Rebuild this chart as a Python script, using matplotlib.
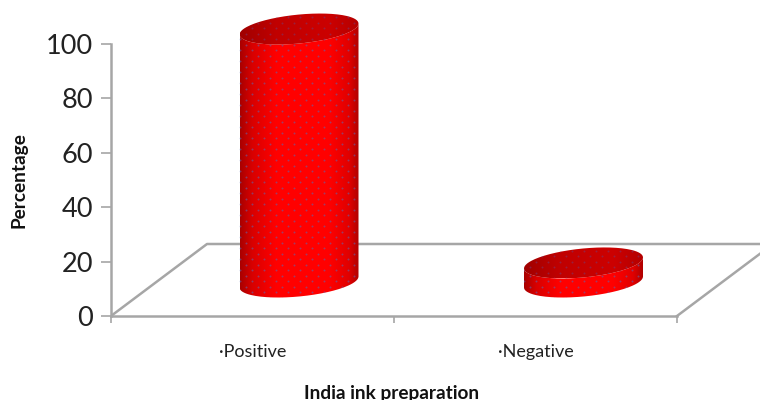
import numpy as np
import matplotlib
matplotlib.use("Agg")
import matplotlib.pyplot as plt
from matplotlib.colors import LinearSegmentedColormap
from matplotlib.path import Path
from matplotlib.patches import PathPatch

categories = ["·Positive", "·Negative"]
percentages = [93, 7]
y_ticks = [0, 20, 40, 60, 80, 100]

W, H = 760, 400
LEFT, BOTTOM = 111, 316      # pixel position of the axes origin
PX_X = 283.0                 # pixels per category
PX_Y = 2.72                  # pixels per percent
GREY = "#a6a6a6"

plt.rcParams["font.family"] = ["Lato", "DejaVu Sans"]

side_cmap = LinearSegmentedColormap.from_list(
    "side", [(0, "#a80000"), (0.1, "#d80000"), (0.3, "#ff0000"), (0.75, "#ff0000"), (0.92, "#e00000"), (1, "#b00000")]
)
cap_cmap = LinearSegmentedColormap.from_list(
    "cap", [(0, "#a00000"), (0.3, "#c00000"), (0.75, "#cc0000"), (1, "#b40000")]
)


def ellipse(cx, cy, t):
    x = cx + 59.5 / PX_X * np.cos(t)
    y = cy + (5.5 * np.cos(t) + 14.5 * np.sin(t)) / PX_Y
    return x, y


def fill(ax, x, y, cmap, zorder):
    path = Path(np.column_stack([x, y]))
    patch = PathPatch(path, fc="none", ec="none", transform=ax.transData)
    ax.add_patch(patch)
    grad = np.linspace(0, 1, 256).reshape(1, -1)
    im = ax.imshow(grad, cmap=cmap, aspect="auto", interpolation="bilinear", vmin=0, vmax=1,
                   extent=(x.min(), x.max(), y.min(), y.max()), zorder=zorder)
    im.set_clip_path(patch)
    return patch


def dots(ax, patch, x, y, zorder, color):
    # staggered speckle texture of the bar fill
    xs, ys = [], []
    for i, yy in enumerate(np.arange(y.min(), y.max(), 5.5 / PX_Y)):
        off = 0 if i % 2 else 6 / PX_X
        for xx in np.arange(x.min() + off, x.max(), 12 / PX_X):
            xs.append(xx)
            ys.append(yy)
    pts = ax.scatter(xs, ys, s=2.0, c=color, alpha=0.55, linewidths=0, zorder=zorder)
    pts.set_clip_path(patch)


fig = plt.figure(figsize=(W / 100, H / 100), dpi=100)
ax = fig.add_axes([LEFT / W, (H - BOTTOM) / H, (W - LEFT) / W, BOTTOM / H])
x_max = (W - LEFT) / PX_X - 0.5
y_max = BOTTOM / PX_Y

# floor of the 3D plot area
floor_dx, floor_dy = 96 / PX_X, 72 / PX_Y
ax.plot([-0.5, -0.5 + floor_dx, x_max], [0, floor_dy, floor_dy], color=GREY, lw=1.8, zorder=1)
ax.plot([1.5, x_max], [0, (x_max - 1.5) * floor_dy / floor_dx], color=GREY, lw=1.8, zorder=1, clip_on=False)

# cylinders stand in the middle of the floor depth
base_dx, base_dy = 48 / PX_X, 34 / PX_Y
t_lower = np.linspace(np.pi, 2 * np.pi, 80)
t_full = np.linspace(0, 2 * np.pi, 160)
for i, value in enumerate(percentages):
    # the first cylinder sits a touch left of the category offset
    cx = i + base_dx - (1.5 / PX_X if i == 0 else 0)
    x_low, y_low = ellipse(cx, base_dy, t_lower)
    x_top, y_top = ellipse(cx, base_dy + value, t_lower[::-1])
    x_side = np.concatenate([x_low, x_top])
    y_side = np.concatenate([y_low, y_top])
    side = fill(ax, x_side, y_side, side_cmap, 3)
    dots(ax, side, x_side, y_side, 3.5, "#5a6ab8")
    x_cap, y_cap = ellipse(cx, base_dy + value, t_full)
    cap = fill(ax, x_cap, y_cap, cap_cmap, 4)
    dots(ax, cap, x_cap, y_cap, 4.5, "#7a3a70")

ax.set_xlim(-0.5, x_max)
ax.set_ylim(0, y_max)
ax.patch.set_alpha(0)

for s in ["top", "right"]:
    ax.spines[s].set_visible(False)
for s in ["left", "bottom"]:
    ax.spines[s].set_color(GREY)
    ax.spines[s].set_linewidth(1.8)
ax.spines["left"].set_bounds(0, 100)
ax.spines["bottom"].set_bounds(-0.5, 1.5)

ax.set_yticks(y_ticks)
ax.tick_params(axis="y", length=7, width=1.2, color=GREY, labelsize=19.5, labelcolor="#222222", pad=6)
ax.set_xticks([-0.5, 0.5, 1.5])
ax.set_xticklabels([])
ax.tick_params(axis="x", length=5, width=1.2, color=GREY)
ax.set_xticks([0, 1], minor=True)
ax.set_xticklabels(categories, minor=True, fontsize=13, color="#222222")
ax.tick_params(axis="x", which="minor", length=0, pad=20)

fig.text(392 / W, 1 - 393 / H, "India ink preparation", ha="center", va="center", fontsize=13.7, fontweight="bold", color="#111111")
fig.text(19 / W, 1 - 180 / H, "Percentage", ha="center", va="center", rotation=90, fontsize=13.7, fontweight="bold", color="#111111")

fig.savefig("out.png", dpi=100)
